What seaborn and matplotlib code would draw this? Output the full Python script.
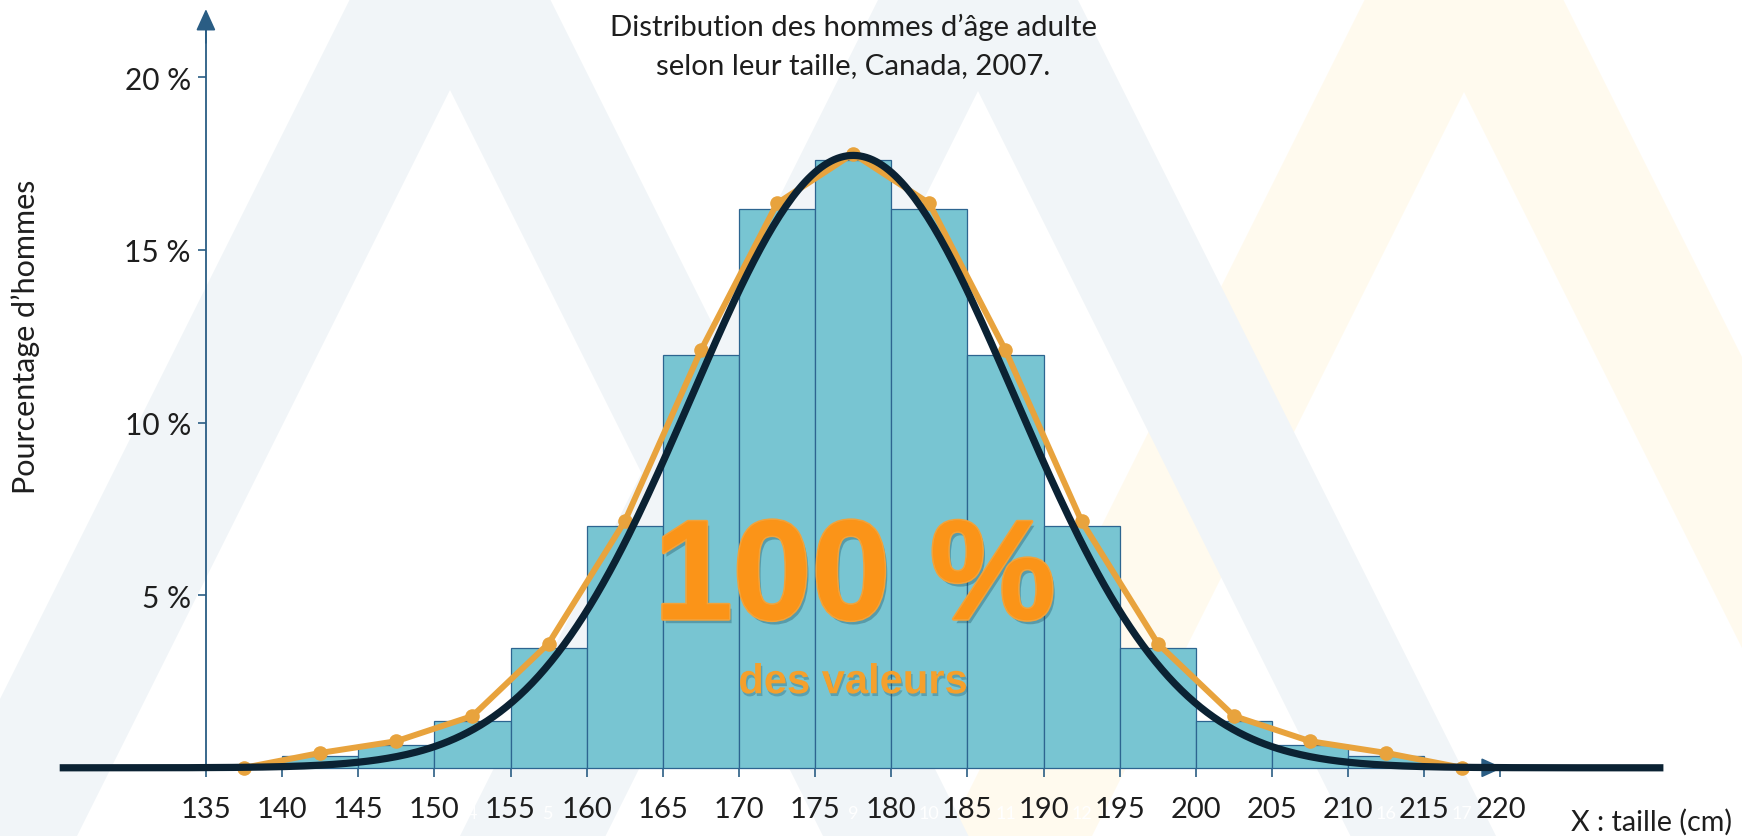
import numpy as np
import matplotlib
matplotlib.use("Agg")
import matplotlib.pyplot as plt
import matplotlib.patheffects as pe
from matplotlib.patches import Polygon
import seaborn as sns

# --- données ---
bornes = [135, 140, 145, 150, 155, 160, 165, 170, 175, 180,
          185, 190, 195, 200, 205, 210, 215, 220]
classes = [137.5, 142.5, 147.5, 152.5, 157.5, 162.5, 167.5, 172.5, 177.5,
           182.5, 187.5, 192.5, 197.5, 202.5, 207.5, 212.5, 217.5]
pourcentages = [0.05, 0.33, 0.67, 1.36, 3.48, 7.0, 11.97, 16.19, 17.62,
                16.19, 11.97, 7.0, 3.48, 1.36, 0.67, 0.33, 0.05]
polygone = [0.0, 0.43, 0.77, 1.5, 3.6, 7.14, 12.09, 16.35, 17.79,
            16.35, 12.09, 7.14, 3.6, 1.5, 0.77, 0.43, 0.0]
graduations_x = [135, 140, 145, 150, 155, 160, 165, 170, 175, 180,
                 185, 190, 195, 200, 205, 210, 215, 220]
graduations_y = [5, 10, 15, 20]
etiquettes_y = ["5 %", "10 %", "15 %", "20 %"]
# numéros de classe (texte blanc, presque invisible)
pos_numeros = [132.5] + classes
numeros = ["0", "1", "2", "3", "4", "5", "6", "7", "8", "9", "10",
           "11", "12", "13", "14", "15", "16", "17"]

# courbe normale : paramètres lus
moyenne = 177.5
ecart_type = 10.6
sommet = 17.74
debut_courbe, fin_courbe = 125.4, 230.7

# couleurs
BLEU_BARRE = "#78c5d2"
BORD = "#2d6590"
AXE = "#2a5d84"
ORANGE = "#e8a33d"
NOIR = "#0b2233"
GRIS_FOND = "#f1f5f8"
JAUNE_FOND = "#fffaee"
TEXTE = "#1e1e1e"

sns.set_theme(style="white")
plt.rcParams["font.family"] = ["Lato", "DejaVu Sans"]

W, H = 1742, 837
fig = plt.figure(figsize=(W / 100, H / 100), dpi=100)
ax = fig.add_axes([0, 0, 1, 1])

# --- filigrane : chevrons pâles (coordonnées en pixels de la figure) ---
def chevron(xa, ya, couleur, epaisseur=291, pente=0.5):
    yb = H + 60
    yo = ya - epaisseur
    pts = [(xa - pente * (yb - yo), yb), (xa, yo), (xa + pente * (yb - yo), yb),
           (xa + pente * (yb - ya), yb), (xa, ya), (xa - pente * (yb - ya), yb)]
    pts = [(x / W, 1 - y / H) for x, y in pts]
    fig.patches.append(Polygon(pts, closed=True, transform=fig.transFigure,
                               facecolor=couleur, edgecolor="none", zorder=-10))

fig.patch.set_facecolor("white")
ax.set_facecolor("none")
chevron(1464, 93, JAUNE_FOND)
chevron(450, 91, GRIS_FOND)
chevron(978, 92, GRIS_FOND)

# --- histogramme ---
sns.histplot(x=classes, weights=pourcentages, bins=bornes, color=BLEU_BARRE,
             edgecolor=BORD, linewidth=0.9, alpha=1, ax=ax, zorder=2)

# --- polygone des effectifs ---
sns.lineplot(x=classes, y=polygone, color=ORANGE, lw=4.3, marker="o",
             markersize=10.5, markeredgewidth=0, ax=ax, zorder=3)

# --- courbe normale ---
xs = np.linspace(debut_courbe, fin_courbe, 500)
ys = sommet * np.exp(-0.5 * ((xs - moyenne) / ecart_type) ** 2)
sns.lineplot(x=xs, y=ys, color=NOIR, lw=5.2, ax=ax, zorder=4,
             solid_capstyle="butt")

# --- repère ---
px_x = 15.23
px_y = 34.52
ax.set_xlim(135 - 205.9 / px_x, 135 + (W - 205.9) / px_x)
ax.set_ylim(-(H - 768.8) / px_y, 768.8 / px_y)

for s in ["top", "right"]:
    ax.spines[s].set_visible(False)
ax.spines["bottom"].set_position(("data", 0))
ax.spines["left"].set_position(("data", 135))
ax.spines["bottom"].set_bounds(134.6, 219.5)
ax.spines["left"].set_bounds(0, 21.5)
for s in ["bottom", "left"]:
    ax.spines[s].set_color(AXE)
    ax.spines[s].set_linewidth(1.3)
    ax.spines[s].set_zorder(1.5)

fleche = dict(arrowstyle="-|>,head_length=1.1,head_width=0.5", color=AXE,
              lw=1.3, shrinkA=0, shrinkB=0)
ax.annotate("", xy=(220.15, 0), xytext=(218.5, 0), arrowprops=fleche, zorder=1.5)
ax.annotate("", xy=(135, 21.98), xytext=(135, 21.0), arrowprops=fleche, zorder=1.5)

ax.set_xticks(graduations_x)
ax.set_xticklabels([str(v) for v in graduations_x])
ax.set_yticks(graduations_y)
ax.set_yticklabels(etiquettes_y)
ax.tick_params(axis="x", direction="out", length=6.5, width=1.2, color=AXE,
               pad=14, labelsize=21, labelcolor=TEXTE, bottom=True)
ax.tick_params(axis="y", direction="out", length=5.8, width=1.2, color=AXE,
               pad=5, labelsize=21.5, labelcolor=TEXTE, left=True)
ax.set_xlabel("")
ax.set_ylabel("")
ax.grid(False)

# numéros de classe en blanc, petits pour rester entre les graduations
for xv, t in zip(pos_numeros, numeros):
    ax.text(xv, -1.45, t, color="white", fontsize=13, ha="center",
            va="baseline", zorder=1)

# --- textes ---
ax.text(177.5, 21.23, "Distribution des hommes d’âge adulte", fontsize=21.2,
        ha="center", va="baseline", color=TEXTE)
ax.text(177.5, 20.13, "selon leur taille, Canada, 2007.", fontsize=21.2,
        ha="center", va="baseline", color=TEXTE)
ax.text(123.19, 12.51, "Pourcentage d’hommes", fontsize=22, rotation=90,
        ha="center", va="center", color=TEXTE)
ax.text(229.95, -1.54, "X : taille (cm)", fontsize=20.7, ha="center",
        va="center", color=TEXTE)

effets = [pe.withSimplePatchShadow(offset=(2, -3), shadow_rgbFace="#1d4f5e",
                                   alpha=0.35),
          pe.withStroke(linewidth=2.5, foreground="#f2a23a"),
          pe.Normal()]
ax.text(177.6, 4.31, "100 %", fontsize=102, fontweight="bold",
        family=["Liberation Sans", "DejaVu Sans"], color="#fb9418",
        ha="center", va="baseline", zorder=6, path_effects=effets)
ax.text(177.5, 2.16, "des valeurs", fontsize=30, fontweight="bold",
        family=["Liberation Sans", "DejaVu Sans"], color="#f5a02c",
        ha="center", va="baseline", zorder=6,
        path_effects=[pe.withSimplePatchShadow(offset=(1, -2),
                                               shadow_rgbFace="#1d4f5e",
                                               alpha=0.3)])

fig.savefig("out.png", dpi=100)
